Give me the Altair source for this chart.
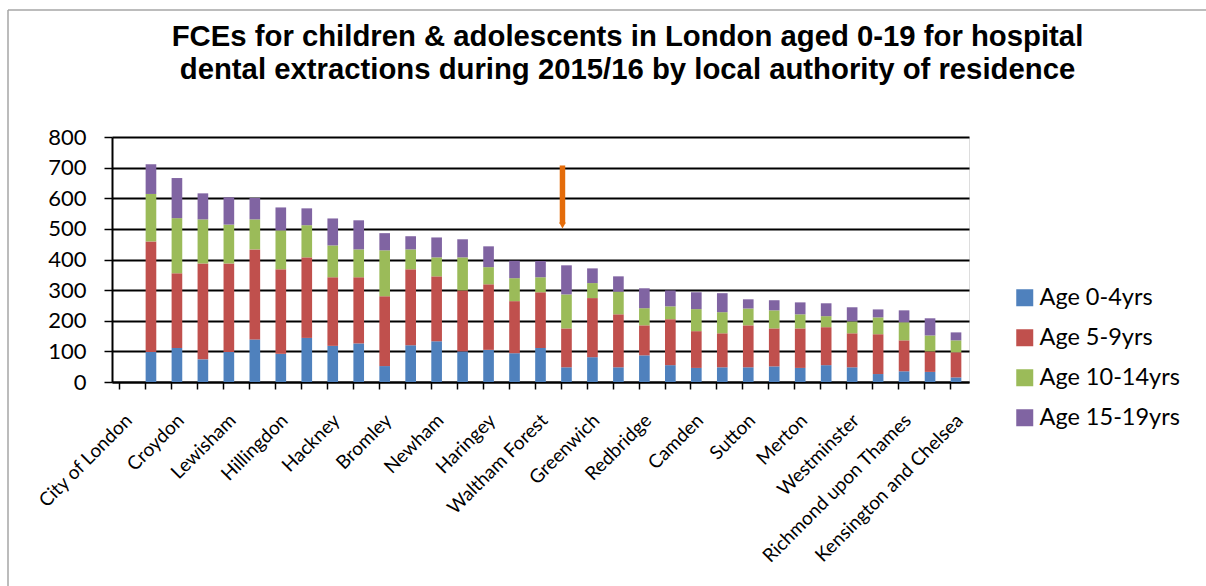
import altair as alt
import pandas as pd

boroughs = [
    "City of London", "Barking and Dagenham", "Croydon", "Ealing", "Lewisham",
    "Enfield", "Hillingdon", "Tower Hamlets", "Hackney", "Islington", "Bromley",
    "Brent", "Newham", "Southwark", "Haringey", "Lambeth", "Waltham Forest",
    "Havering", "Greenwich", "Hounslow", "Redbridge", "Bexley", "Camden",
    "Barnet", "Sutton", "Harrow", "Merton", "Hammersmith and Fulham",
    "Westminster", "Kingston upon Thames", "Richmond upon Thames", "Wandsworth",
    "Kensington and Chelsea",
]
shown_labels = boroughs[::2]

series = ["Age 0-4yrs", "Age 5-9yrs", "Age 10-14yrs", "Age 15-19yrs"]
colors = ["#4F81BD", "#C0504D", "#9BBB59", "#8064A2"]

age_0_4 = [0, 98, 111, 74, 98, 139, 92, 144, 118, 126, 52, 120, 133, 100, 105, 94, 111,
           48, 81, 48, 87, 55, 46, 48, 48, 51, 46, 55, 48, 26, 35, 33, 15]
age_5_9 = [0, 361, 244, 313, 289, 294, 276, 263, 224, 216, 228, 248, 212, 199, 214, 170, 182,
           127, 193, 173, 98, 150, 120, 111, 137, 124, 129, 124, 111, 130, 101, 67, 82]
age_10_14 = [0, 155, 180, 144, 127, 98, 127, 105, 104, 91, 150, 65, 62, 108, 56, 75, 49,
             111, 49, 74, 56, 42, 72, 69, 55, 59, 46, 36, 39, 55, 59, 52, 39]
age_15_19 = [0, 97, 131, 85, 89, 70, 75, 55, 88, 95, 56, 43, 65, 59, 68, 57, 53,
             95, 48, 50, 65, 52, 55, 62, 30, 33, 39, 42, 46, 26, 39, 56, 26]

y_ticks = [0, 100, 200, 300, 400, 500, 600, 700, 800]

# annotation arrow (orange, pointing down)
arrow_category = ["Havering"]
arrow_top = [707]
arrow_bottom = [516]
arrow_tip = [511]

rows = []
for i, b in enumerate(boroughs):
    for k, (s, vals) in enumerate(zip(series, [age_0_4, age_5_9, age_10_14, age_15_19])):
        rows.append({"borough": b, "series": s, "order": k, "value": vals[i]})
df = pd.DataFrame(rows)

arrow_df = pd.DataFrame({"borough": arrow_category, "top": arrow_top,
                         "bottom": arrow_bottom, "tip": arrow_tip})

W, H = 857, 245
PL, PT = 112, 137

js_list = "[" + ",".join("'" + s + "'" for s in shown_labels) + "]"

x_scale = alt.Scale(domain=boroughs, paddingInner=0.59, paddingOuter=0.295)
x_axis = alt.Axis(
    title=None, labelAngle=-45, labelAlign="right", labelBaseline="middle",
    labelFont="Lato", labelFontSize=19, labelColor="black", labelPadding=28,
    labelExpr=f"indexof({js_list}, datum.label) >= 0 ? datum.label : ''",
    labelOverlap=False, labelLimit=0, domainColor="black", domainWidth=2,
    tickColor="black", tickSize=7, tickWidth=1.5, bandPosition=0,
    labelOffset=4,
)
y_scale = alt.Scale(domain=[0, 800], nice=False)
y_axis = alt.Axis(
    title=None, values=y_ticks, tickCount=20, grid=True, gridColor="black", gridWidth=1.8,
    domainColor="black", domainWidth=2, tickColor="black", tickSize=8,
    tickWidth=1.5, labelFont="Lato", labelFontSize=22, labelColor="black",
    labelPadding=18, labelOverlap=False, labelFlush=False,
)

bars = alt.Chart(df).mark_bar().encode(
    x=alt.X("borough:N", sort=boroughs, scale=x_scale, axis=x_axis),
    y=alt.Y("sum(value):Q", stack="zero", scale=y_scale, axis=y_axis),
    color=alt.Color(
        "series:N", sort=series,
        scale=alt.Scale(domain=series, range=colors),
        legend=alt.Legend(
            title=None, orient="none", legendX=901, legendY=149,
            symbolType="square", symbolSize=289, symbolStrokeWidth=0,
            labelFont="Lato", labelFontSize=23.5, labelColor="black",
            labelOffset=3, rowPadding=15, labelLimit=0,
        ),
    ),
    order=alt.Order("order:Q", sort="ascending"),
)

arrow_shaft = alt.Chart(arrow_df).mark_rule(
    color="#E46C0A", strokeWidth=5.5, xOffset=-4
).encode(
    x=alt.X("borough:N", sort=boroughs, scale=x_scale, axis=x_axis),
    y=alt.Y("top:Q", scale=y_scale, axis=y_axis), y2="bottom:Q",
)
arrow_head = alt.Chart(arrow_df).mark_point(
    shape="triangle-down", filled=True, color="#E46C0A", size=45, opacity=1, xOffset=-4
).encode(
    x=alt.X("borough:N", sort=boroughs, scale=x_scale, axis=x_axis),
    y=alt.Y("tip:Q", scale=y_scale, axis=y_axis),
)

frame_top = alt.Chart(arrow_df).mark_rule(color="#A6A6A6", strokeWidth=1.5).encode(
    x=alt.value(-104), x2=alt.value(1200), y=alt.value(-127)
)
frame_left = alt.Chart(arrow_df).mark_rule(color="#A6A6A6", strokeWidth=1.5).encode(
    x=alt.value(-104), y=alt.value(-127), y2=alt.value(460)
)

chart = alt.layer(frame_top, frame_left, bars, arrow_shaft, arrow_head).properties(
    width=W, height=H,
    title=alt.TitleParams(
        ["FCEs for children & adolescents in London aged 0-19 for hospital",
         "dental extractions during 2015/16 by local authority of residence"],
        font="Liberation Sans", fontSize=29.3, fontWeight="bold", color="black",
        anchor="middle", frame="group", dx=87, offset=-76, lineHeight=33,
    ),
    autosize=alt.AutoSizeParams(type="none"),
    padding={"left": PL, "top": PT, "right": 1206 - PL - W, "bottom": 586 - PT - H},
).configure_view(stroke=None).configure(background="white")

chart.save("out.html", embed_options={"renderer": "svg", "actions": False})
